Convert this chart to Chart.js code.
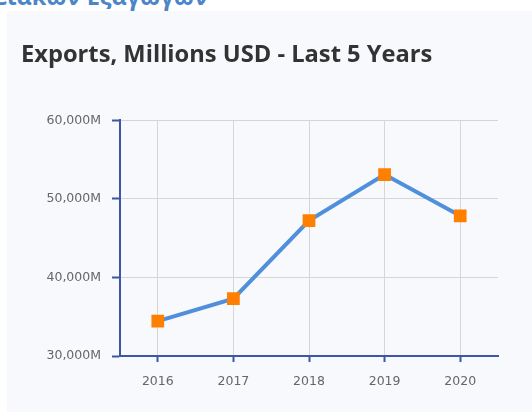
<!DOCTYPE html>
<html>
<head>
<meta charset="utf-8">
<script src="https://cdn.jsdelivr.net/npm/chart.js@4/dist/chart.umd.min.js"></script>
<style>
  html, body { margin: 0; padding: 0; background: #ffffff; overflow: hidden; width: 532px; height: 412px; }
  #heading {
    position: absolute; right: 324px; top: -15px; white-space: nowrap;
    font-family: "Open Sans", sans-serif; font-weight: 700; font-size: 23.5px; line-height: 1;
    color: #4a86c8;
  }
  #panel { position: absolute; left: 7px; top: 11px; width: 525px; height: 401px; background: #f7f9fc; }
</style>
</head>
<body>
<div id="heading">Στοιχεία Περιφερειακών Εξαγωγών</div>
<div id="panel"><canvas id="exportsChart"></canvas></div>
<script>
// Données (millions USD)
const years = ['2016', '2017', '2018', '2019', '2020'];
const exportsMillions = [34450, 37300, 47250, 53100, 47850];
const yMin = 30000;
const yMax = 60000;
const yStep = 10000;

const axisBlue = '#3d56a6';
const gridGrey = '#d6d6d6';

let ctx = document.getElementById('exportsChart').getContext('2d');
let chart = new Chart(ctx, {
  type: 'line',
  data: {
    labels: years,
    datasets: [{
      label: 'Exports',
      data: exportsMillions,
      borderColor: '#4f8fdc',
      borderWidth: 4,
      backgroundColor: '#ff7f00',
      pointStyle: 'rect',
      pointRadius: 9,
      pointBorderWidth: 0,
      pointBackgroundColor: '#ff7f00',
      tension: 0,
      fill: false
    }]
  },
  options: {
    responsive: true,
    maintainAspectRatio: false,
    animation: false,
    layout: { padding: { left: 14, right: 34, top: 0, bottom: 11 } },
    plugins: {
      legend: { display: false },
      tooltip: { enabled: false },
      title: {
        display: true,
        text: 'Exports, Millions USD - Last 5 Years',
        align: 'start',
        color: '#333333',
        font: { family: 'Open Sans', weight: 'bold', size: 23.7, lineHeight: 1.2 },
        padding: { top: 30, bottom: 51 }
      }
    },
    scales: {
      x: {
        offset: true,
        grid: { offset: false, color: gridGrey, lineWidth: 1, tickColor: axisBlue, tickWidth: 2, tickLength: 6 },
        border: { display: true, color: axisBlue, width: 2 },
        ticks: {
          color: '#666666',
          padding: 12,
          font: { family: 'DejaVu Sans', size: 12.5 }
        }
      },
      y: {
        min: yMin,
        max: yMax,
        grid: { color: gridGrey, lineWidth: 1, tickColor: axisBlue, tickWidth: 2, tickLength: 8 },
        border: { display: true, color: axisBlue, width: 2 },
        ticks: {
          stepSize: yStep,
          color: '#666666',
          padding: 11,
          font: { family: 'DejaVu Sans', size: 12.5 },
          callback: value => value.toLocaleString('en-US') + 'M'
        },
        afterFit: scale => { scale.width = 99; }
      }
    }
  }
});
</script>
</body>
</html>
